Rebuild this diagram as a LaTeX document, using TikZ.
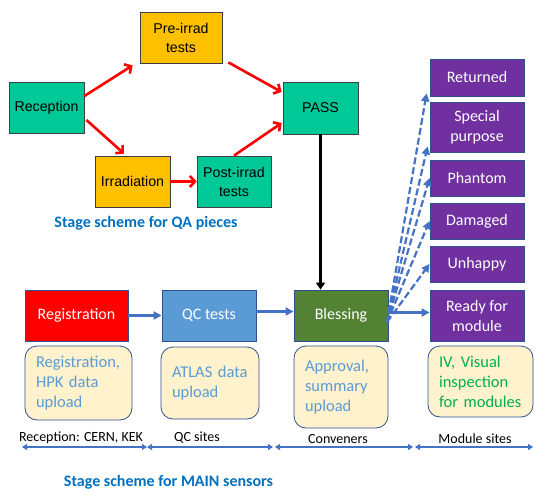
\documentclass[tikz,border=0pt]{standalone}
\usepackage{fontspec}
\setmainfont{Carlito}
\newfontfamily\arialf{Liberation Sans}
\usetikzlibrary{arrows.meta}
\definecolor{teal1}{HTML}{00C896}
\definecolor{gold1}{HTML}{FFC000}
\definecolor{qcblue}{HTML}{5B9BD5}
\definecolor{blessgreen}{HTML}{548235}
\definecolor{purp}{HTML}{7030A0}
\definecolor{edgeblue}{HTML}{2F528F}
\definecolor{cream}{HTML}{FFF2CC}
\definecolor{arrblue}{HTML}{4472C4}
\definecolor{titleblue}{HTML}{0070C0}
\definecolor{ivgreen}{HTML}{00B050}
\definecolor{grayedge}{HTML}{3F3F3F}
\tikzset{
  qabox/.style={draw=grayedge, line width=0.8pt, rectangle, align=center, inner sep=0pt,
    font=\arialf\fontsize{14.2}{19}\selectfont, text=black},
  mainbox/.style={draw=edgeblue, line width=0.8pt, rectangle, align=center, inner sep=0pt,
    font=\fontsize{16}{20}\selectfont, text=white, minimum width=94pt},
  purpbox/.style={mainbox, fill=purp},
  notebox/.style={draw=edgeblue, line width=0.8pt, fill=cream, rounded corners=12pt,
    align=left, inner xsep=11pt, inner ysep=0pt, font=\fontsize{16.5}{20}\selectfont, text=qcblue},
  redarr/.style={draw=red, line width=2.6pt, -{Straight Barb[length=5pt,width=11pt,line width=2.6pt]}},
  bluearr/.style={draw=arrblue, line width=2.2pt, -{Triangle[length=8pt,width=8pt]}},
  dasharr/.style={draw=arrblue, line width=2.2pt, dashed, dash pattern=on 7pt off 3pt, -{Triangle[length=8pt,width=8pt]}},
  spanarr/.style={draw=arrblue, line width=1.8pt, {Triangle[length=5pt,width=6pt]}-{Triangle[length=5pt,width=6pt]}},
  sitelabel/.style={font=\fontsize{14}{16}\selectfont, text=black, inner sep=0pt},
  titlelabel/.style={font=\bfseries\fontsize{16}{19}\selectfont, text=titleblue, inner sep=0pt},
}
\begin{document}
\begin{tikzpicture}[x=1pt,y=-1pt]
\useasboundingbox (0,0) rectangle (534,489);
% QA scheme
\node[qabox, fill=teal1, minimum width=75pt, minimum height=51pt] (rec) at (46.5,107.5) {Reception};
\node[qabox, fill=gold1, minimum width=82pt, minimum height=51pt] (pre) at (181,37.5) {Pre-irrad\\tests};
\node[qabox, fill=teal1, minimum width=75pt, minimum height=52pt] (pass) at (320.5,108) {PASS};
\node[qabox, fill=gold1, minimum width=75pt, minimum height=51pt] (irr) at (132.5,181.5) {Irradiation};
\node[qabox, fill=teal1, minimum width=74pt, minimum height=51pt] (post) at (234,181.5) {Post-irrad\\tests};
\node[titlelabel] (qatitle) at (146,223) {Stage scheme for QA pieces};

\draw[redarr] ([xshift=0pt,yshift=11.5pt]rec.east) -- ([xshift=-7pt,yshift=-2pt]pre.south west);
\draw[redarr] ([xshift=6pt,yshift=1pt]pre.south east) -- ([xshift=-1pt,yshift=16pt]pass.west);
\draw[redarr] ([xshift=2pt,yshift=-12.5pt]rec.east) -- ([xshift=-8.5pt,yshift=2pt]irr.north);
\draw[redarr] (irr.east) -- (post.west);
\draw[redarr] (post.north) -- ([xshift=-1pt,yshift=-15pt]pass.west);

% MAIN scheme
\node[mainbox, fill=red, minimum width=103pt, minimum height=51pt] (reg) at (76.5,315.5) {Registration};
\node[mainbox, fill=qcblue, minimum height=51pt] (qc) at (209,315.5) {QC tests};
\node[mainbox, fill=blessgreen, minimum height=51pt] (bless) at (341,315.5) {Blessing};

\node[purpbox, minimum height=37pt] (ret) at (477,77.5) {Returned};
\node[purpbox, minimum height=50pt] (spc) at (477,127) {Special\\purpose};
\node[purpbox, minimum height=36pt] (pha) at (477,178) {Phantom};
\node[purpbox, minimum height=36pt] (dam) at (477,221) {Damaged};
\node[purpbox, minimum height=36pt] (unh) at (477,264) {Unhappy};
\node[purpbox, minimum height=51pt] (rdy) at (477,315.5) {Ready for\\module};

\draw[line width=2.6pt, -{Triangle[length=7pt,width=9pt]}] (pass.south) -- (pass.south |- bless.north);

\draw[bluearr] (reg.east) -- (qc.west);
\draw[bluearr] ([yshift=4pt]qc.east) -- ([yshift=4pt]bless.west);
\draw[bluearr] ([yshift=3pt]bless.east) -- ([yshift=3pt]rdy.west);

\coordinate (fan) at (387,322);
\draw[dasharr] (fan) -- ([xshift=-3pt,yshift=3pt]ret.south west);
\draw[dasharr] (fan) -- ([xshift=-2pt,yshift=6pt]spc.south west);
\draw[dasharr] (fan) -- (pha.west);
\draw[dasharr] (fan) -- (dam.west);
\draw[dasharr] (fan) -- (unh.west);

\node[notebox, text width=85pt, minimum height=74pt] (regn) at (78.5,383) {Registration,\\HPK data\\upload};
\node[notebox, text width=76pt, minimum height=72pt] (qcn) at (210,383) {ATLAS data\\upload};
\node[notebox, text width=72pt, minimum height=82pt] (blessn) at (341,387) {Approval,\\summary\\upload};
\node[notebox, text=ivgreen, text width=83pt, minimum height=71pt] (ivn) at (480.5,381.5) {IV, Visual\\inspection\\for modules};

\node[sitelabel] (l1) at (81,438) {Reception: CERN, KEK};
\node[sitelabel] (l2) at (197,438) {QC sites};
\node[sitelabel] (l3) at (338,439) {Conveners};
\node[sitelabel] (l4) at (475,439) {Module sites};
\coordinate (s0) at (22,447);
\coordinate (s1) at (147,447);
\coordinate (s2) at (273,447);
\coordinate (s3) at (275,447);
\coordinate (s4) at (413,447);
\coordinate (s5) at (415,447);
\coordinate (s6) at (533,447);
\draw[spanarr] (s0) -- (s1);
\draw[spanarr] (s1) -- (s2);
\draw[spanarr] (s3) -- (s4);
\draw[spanarr] (s5) -- (s6);

\node[titlelabel] (maintitle) at (168.5,482) {Stage scheme for MAIN sensors};
\end{tikzpicture}
\end{document}
